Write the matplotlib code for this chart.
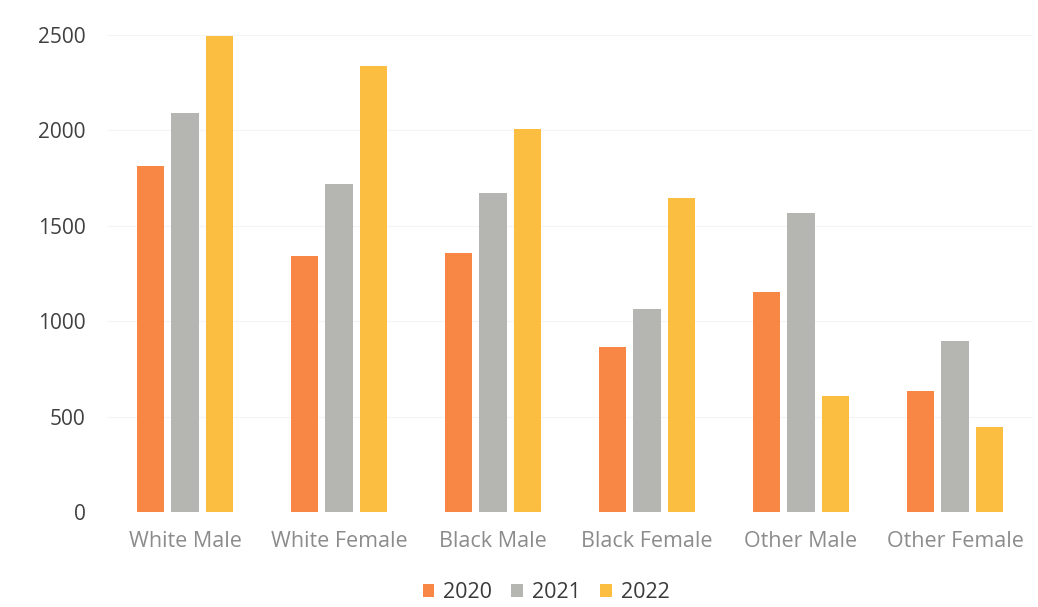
import numpy as np
import matplotlib
matplotlib.use("Agg")
import matplotlib.pyplot as plt

categories = ["White Male", "White Female", "Black Male", "Black Female", "Other Male", "Other Female"]
years = ["2020", "2021", "2022"]
values_2020 = [1815, 1340, 1355, 865, 1155, 635]
values_2021 = [2090, 1720, 1670, 1065, 1565, 895]
values_2022 = [2495, 2335, 2005, 1645, 610, 445]
yticks = [0, 500, 1000, 1500, 2000, 2500]

series = [values_2020, values_2021, values_2022]
colors = ["#F88644", "#B5B5B1", "#FCBE40"]

fig = plt.figure(figsize=(10.38, 6.07), dpi=100)
ax = fig.add_axes([108 / 1038, 1 - 512 / 607, (1032 - 108) / 1038, (512 - 35) / 607])

x = np.arange(len(categories))
slot = 0.225
width = 0.178
for i, (vals, col, yr) in enumerate(zip(series, colors, years)):
    ax.bar(x + (i - 1) * slot, vals, width=width, color=col, label=yr, zorder=2)

ax.set_xlim(-0.5, len(categories) - 0.5)
ax.set_ylim(0, 2500)
ax.set_yticks(yticks)
ax.set_yticklabels([str(t) for t in yticks])
ax.yaxis.grid(True, color="#F4F4F4", linewidth=0.8, zorder=0)
ax.set_axisbelow(True)
for s in ax.spines.values():
    s.set_visible(False)
ax.tick_params(axis="both", length=0)
ax.tick_params(axis="y", pad=16, labelsize=15, labelcolor="#404040")
ax.set_xticks(x)
ax.set_xticklabels(categories, fontsize=15.5, color="#8C8C8C")
ax.tick_params(axis="x", pad=14)
for lbl in ax.get_xticklabels() + ax.get_yticklabels():
    lbl.set_fontfamily("Open Sans")

leg = fig.legend(loc="center", bbox_to_anchor=(546 / 1038, 1 - 593 / 607), ncol=3, frameon=False,
                 prop={"family": "Open Sans", "size": 15.5}, handlelength=0.55, handleheight=0.55,
                 handletextpad=0.4, columnspacing=0.9)
for t in leg.get_texts():
    t.set_color("#3A3A3A")

fig.savefig("out.png", dpi=100, facecolor="white")
